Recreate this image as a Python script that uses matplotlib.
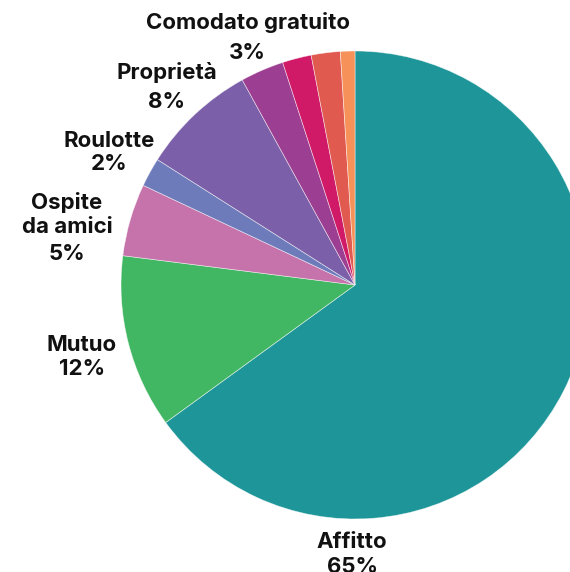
import matplotlib
matplotlib.use("Agg")
import matplotlib.pyplot as plt

# Data (clockwise from 12 o'clock)
categories = ["Affitto", "Mutuo", "Ospite\nda amici", "Roulotte", "Proprietà",
              "Comodato gratuito", "", "", ""]
values = [65, 12, 5, 2, 8, 3, 2, 2, 1]
colors = ["#1e9699", "#42b763", "#c672ab", "#6d7bba", "#7b5fa8",
          "#9c3e92", "#d01a68", "#e05a50", "#f6915a"]

W, H = 570, 572
R = 234.0
cx, cy = 355.0, 285.0

# label layout: centre x (px) and baseline of each line (px)
label_layout = {
    "Affitto": (352, [548, 573]),
    "Mutuo": (82, [351, 375]),
    "Ospite\nda amici": (67, [209, 233, 260.5]),
    "Roulotte": (109, [146.7, 170]),
    "Proprietà": (167, [79, 107.7]),
    "Comodato gratuito": (247.5, [29.3, 59.3]),
}

fig = plt.figure(figsize=(W / 100, H / 100), dpi=100)
ax = fig.add_axes([0, 0, 1, 1])

ax.pie(values, colors=colors, startangle=90, counterclock=False, radius=1,
       wedgeprops=dict(edgecolor=(1, 1, 1, 0.6), linewidth=0.5))
ax.set_xlim(-cx / R, (W - cx) / R)
ax.set_ylim(-(H - cy) / R, cy / R)
ax.set_aspect("auto")
ax.axis("off")

total = sum(values)
for name, v in zip(categories, values):
    if name in label_layout:
        xp, baselines = label_layout[name]
        lines = name.split("\n") + [f"{v / total * 100:.0f}%"]
        for line, yp in zip(lines, baselines):
            ax.text((xp - cx) / R, (cy - yp) / R, line, ha="center", va="baseline",
                    fontsize=16, fontweight="bold", family=["Inter", "DejaVu Sans"],
                    color="#111111")

fig.savefig("out.png", dpi=100)
